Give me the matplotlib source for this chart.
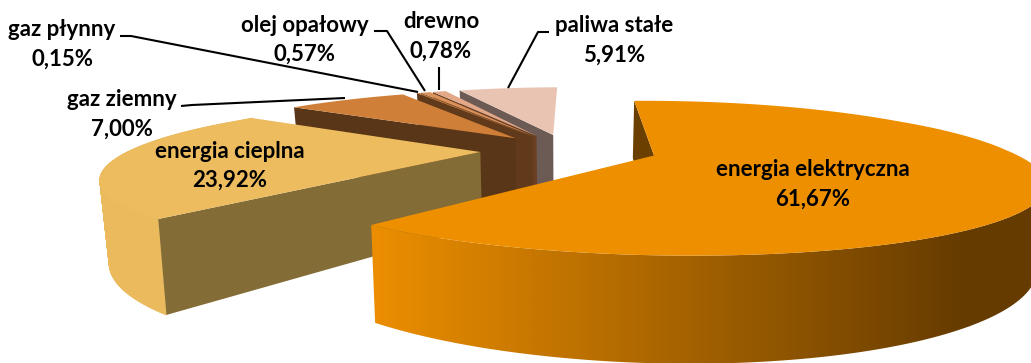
import numpy as np
import matplotlib
matplotlib.use("Agg")
import matplotlib.pyplot as plt
from matplotlib.collections import PolyCollection
from matplotlib.colors import LinearSegmentedColormap
from matplotlib.patches import Polygon

# Energy carrier shares, in clockwise drawing order from the top of the pie
names = ["energia elektryczna", "energia cieplna", "gaz ziemny", "gaz płynny",
         "olej opałowy", "drewno", "paliwa stałe"]
shares = [61.67, 23.92, 7.00, 0.15, 0.57, 0.78, 5.91]
top_colors = ["#EE8F00", "#EDBC5E", "#D07F38", "#C9803F", "#D9905A", "#E3A888", "#E9C4B3"]
cut_colors = ["#6B3F00", "#846C36", "#5A3618", "#603A1A", "#663C1E", "#6A3F22", "#6B5B54"]
outer_colors = [None, "#EABA5C", None, None, None, None, None]

# Label placement: centre x, first-line y
label_pos = [(813, 170), (230, 151), (122, 100), (62, 30), (305, 25), (441, 22), (614, 26)]
# Leader lines from label to slice
leaders = [
    [(181, 106), (192, 105), (345, 98)],
    [(120, 36), (131, 36), (418, 92)],
    [(374, 31), (387, 31), (425, 91)],
    [(439, 67), (439, 90)],
    [(549, 32), (538, 32), (508, 88)],
]

# Projection of the tilted pie
CX, CY = 568, 150
RX_RIGHT, RY = 355, 66
RX_FRONT_LEFT, RX_BACK_LEFT = 350, 361
PERSP = 0.30
SKEW = 14
BACK_LIFT = 4
EXPLODE = 0.25
START = -2.0
DEPTH = 73
SHRINK = 0.98


def project(U, V, left_scale=True):
    U, V = np.asarray(U, float), np.asarray(V, float)
    w = 1 + PERSP * V
    left = RX_FRONT_LEFT + (RX_BACK_LEFT - RX_FRONT_LEFT) * np.clip(V, 0, 1)
    if not left_scale:
        left = np.full_like(V, RX_BACK_LEFT)
    rx = np.where(U < 0, left, RX_RIGHT)
    x = CX + (rx * U + SKEW * np.maximum(V, 0)) / w
    y = CY - RY * V / w - BACK_LIFT * np.maximum(V - 0.5, 0)
    yb = y + DEPTH / w
    xb = CX + (x - CX) * SHRINK
    return x, y, xb, yb


fig = plt.figure(figsize=(10.31, 3.63), dpi=100, facecolor="white")
ax = fig.add_axes([0, 0, 1, 1])
ax.set_xlim(0, 1031)
ax.set_ylim(363, 0)
ax.axis("off")

sweeps = np.array(shares) / sum(shares) * 360
starts = START + np.concatenate([[0], np.cumsum(sweeps)[:-1]])

shade = LinearSegmentedColormap.from_list("shade", ["#EC8E00", "#653B00"])
layer = 1.0

# Painted from the back of the pie to the front
for i in reversed(range(len(shares))):
    a0, sweep = starts[i], sweeps[i]
    mid = np.radians(a0 + sweep / 2)
    ox, oy = EXPLODE * np.sin(mid), EXPLODE * np.cos(mid)
    th = np.radians(np.linspace(a0, a0 + sweep, 400 if i == 0 else 160))
    U = ox + np.sin(th)
    V = oy + np.cos(th)
    x, y, xb, yb = project(U, V, left_scale=i != 0)
    cx_, cy_, cxb, cyb = [float(v) for v in project(ox, oy, left_scale=i != 0)]

    # rim wall: a clipped horizontal gradient for the large slice, flat fill otherwise
    if i == 0:
        k = int(np.argmax(x))
        front = np.column_stack([np.r_[x[k:], xb[k:][::-1]], np.r_[y[k:], yb[k:][::-1]]])
        clip = Polygon(front, closed=True, fc="none", ec="none", zorder=layer)
        ax.add_patch(clip)
        grad = np.linspace(0, 1, 700).reshape(1, -1)
        im = ax.imshow(grad, extent=(371, 970, 363, 0), cmap=shade, aspect="auto", zorder=layer)
        tail = ax.imshow(np.ones((1, 2)), extent=(969, 1031, 363, 0), cmap=shade, vmin=0, vmax=1,
                         aspect="auto", zorder=layer)
        im.set_clip_path(clip)
        tail.set_clip_path(clip)
    elif outer_colors[i]:
        quads = [[(x[k], y[k]), (x[k + 1], y[k + 1]), (xb[k + 1], yb[k + 1]), (xb[k], yb[k])]
                 for k in range(len(x) - 1)]
        ax.add_collection(PolyCollection(quads, facecolors=outer_colors[i], edgecolors=outer_colors[i],
                                         linewidths=0.6, zorder=layer))

    # cut face at the leading edge of the slice
    cut = [(x[0], y[0]), (cx_, cy_), (cxb, cyb), (xb[0], yb[0])]
    ax.add_patch(Polygon(cut, closed=True, fc=cut_colors[i], ec="none", zorder=layer + 0.01))

    # top face
    top = np.vstack([[cx_, cy_], np.column_stack([x, y])])
    ax.add_patch(Polygon(top, closed=True, fc=top_colors[i], ec="none", zorder=layer + 0.02))
    layer += 0.1

ax.set_xlim(0, 1031)
ax.set_ylim(363, 0)

for pts in leaders:
    xs, ys = zip(*pts)
    ax.plot(xs, ys, color="black", lw=1.5, zorder=5, solid_capstyle="butt")

for name, val, (lx, ly) in zip(names, shares, label_pos):
    ax.text(lx, ly, name, ha="center", va="center", fontsize=16, fontweight="bold",
            family="Lato", color="black", zorder=6)
    ax.text(lx, ly + 29, f"{val:.2f}".replace(".", ",") + "%", ha="center", va="center",
            fontsize=16, fontweight="bold", family="Lato", color="black", zorder=6)

fig.savefig("out.png", dpi=100, facecolor="white")
